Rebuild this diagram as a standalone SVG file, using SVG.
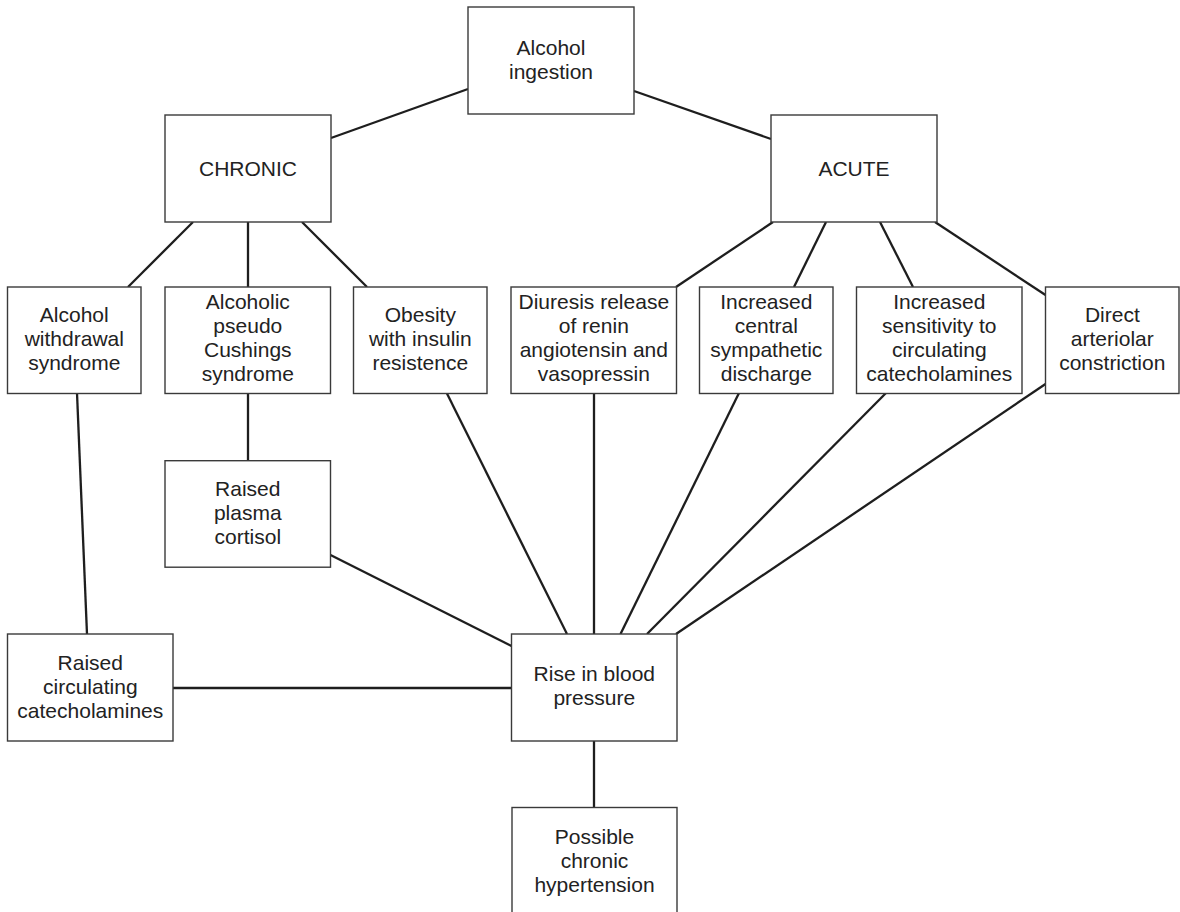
<svg xmlns="http://www.w3.org/2000/svg" width="1180" height="912" viewBox="0 0 1180 912">
<style>
.box{fill:#fff;stroke:#3a3a3a;stroke-width:1.4}
.t{font-family:"Liberation Sans",Arial,sans-serif;font-size:21px;fill:#222;text-anchor:middle}
.c line{stroke:#1e1e1e;stroke-width:2.3;stroke-linecap:butt}
</style>
<rect width="1180" height="912" fill="#fff"/>
<g class="c" id="connectors">
<line x1="331" y1="138" x2="468" y2="89"/>
<line x1="634" y1="91" x2="771" y2="139"/>
<line x1="193" y1="222" x2="128" y2="287"/>
<line x1="248" y1="222" x2="248" y2="287"/>
<line x1="302" y1="222" x2="367" y2="287"/>
<line x1="773" y1="222" x2="676" y2="287"/>
<line x1="826" y1="222" x2="794" y2="287"/>
<line x1="880" y1="222" x2="913" y2="287"/>
<line x1="935" y1="222" x2="1045.5" y2="295"/>
<line x1="77" y1="393" x2="87" y2="634"/>
<line x1="248" y1="393" x2="248" y2="461"/>
<line x1="330.5" y1="555" x2="511.5" y2="646"/>
<line x1="173" y1="688" x2="511.5" y2="688"/>
<line x1="446.7" y1="393" x2="567" y2="634"/>
<line x1="594" y1="393" x2="594" y2="634"/>
<line x1="739" y1="393" x2="620.5" y2="634"/>
<line x1="886" y1="393" x2="647" y2="634"/>
<line x1="1045.5" y1="384" x2="676" y2="634"/>
<line x1="594" y1="741" x2="594" y2="807"/>
</g>
<g id="alcohol-ingestion">
<rect class="box" x="468" y="7" width="166" height="107"/>
<text class="t" x="551" y="55">Alcohol</text>
<text class="t" x="551" y="79">ingestion</text>
</g>
<g id="chronic">
<rect class="box" x="165" y="115" width="166" height="107"/>
<text class="t" x="248" y="176">CHRONIC</text>
</g>
<g id="acute">
<rect class="box" x="771" y="115" width="166" height="107"/>
<text class="t" x="854" y="176">ACUTE</text>
</g>
<g id="alcohol-withdrawal">
<rect class="box" x="7.5" y="287" width="133.5" height="106.5"/>
<text class="t" x="74.3" y="321.5">Alcohol</text>
<text class="t" x="74.3" y="345.5">withdrawal</text>
<text class="t" x="74.3" y="369.5">syndrome</text>
</g>
<g id="pseudo-cushings">
<rect class="box" x="165" y="287" width="165.5" height="106.5"/>
<text class="t" x="247.8" y="308.5">Alcoholic</text>
<text class="t" x="247.8" y="332.5">pseudo</text>
<text class="t" x="247.8" y="356.5">Cushings</text>
<text class="t" x="247.8" y="380.5">syndrome</text>
</g>
<g id="obesity">
<rect class="box" x="353.5" y="287" width="133.5" height="106.5"/>
<text class="t" x="420.3" y="321.5">Obesity</text>
<text class="t" x="420.3" y="345.5">with insulin</text>
<text class="t" x="420.3" y="369.5">resistence</text>
</g>
<g id="diuresis">
<rect class="box" x="511" y="287" width="165.5" height="106.5"/>
<text class="t" x="593.8" y="309">Diuresis release</text>
<text class="t" x="593.8" y="333">of renin</text>
<text class="t" x="593.8" y="357">angiotensin and</text>
<text class="t" x="593.8" y="381">vasopressin</text>
</g>
<g id="central-sympathetic">
<rect class="box" x="699.5" y="287" width="133.5" height="106.5"/>
<text class="t" x="766.3" y="309">Increased</text>
<text class="t" x="766.3" y="333">central</text>
<text class="t" x="766.3" y="357">sympathetic</text>
<text class="t" x="766.3" y="381">discharge</text>
</g>
<g id="sensitivity">
<rect class="box" x="856.5" y="287" width="165.5" height="106.5"/>
<text class="t" x="939.3" y="309">Increased</text>
<text class="t" x="939.3" y="333">sensitivity to</text>
<text class="t" x="939.3" y="357">circulating</text>
<text class="t" x="939.3" y="381">catecholamines</text>
</g>
<g id="direct-constriction">
<rect class="box" x="1045.5" y="287" width="133.5" height="106.5"/>
<text class="t" x="1112.3" y="321.5">Direct</text>
<text class="t" x="1112.3" y="345.5">arteriolar</text>
<text class="t" x="1112.3" y="369.5">constriction</text>
</g>
<g id="plasma-cortisol">
<rect class="box" x="165" y="460.7" width="165.5" height="106.5"/>
<text class="t" x="247.8" y="496">Raised</text>
<text class="t" x="247.8" y="520">plasma</text>
<text class="t" x="247.8" y="544">cortisol</text>
</g>
<g id="circulating-catecholamines">
<rect class="box" x="7.5" y="634" width="165.5" height="107"/>
<text class="t" x="90.3" y="669.5">Raised</text>
<text class="t" x="90.3" y="693.5">circulating</text>
<text class="t" x="90.3" y="717.5">catecholamines</text>
</g>
<g id="rise-bp">
<rect class="box" x="511.5" y="634" width="165.5" height="107"/>
<text class="t" x="594.3" y="681">Rise in blood</text>
<text class="t" x="594.3" y="705">pressure</text>
</g>
<g id="chronic-hypertension">
<rect class="box" x="512" y="807.5" width="165" height="107"/>
<text class="t" x="594.5" y="844">Possible</text>
<text class="t" x="594.5" y="868">chronic</text>
<text class="t" x="594.5" y="892">hypertension</text>
</g>
</svg>
